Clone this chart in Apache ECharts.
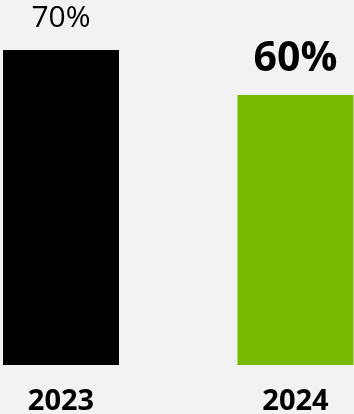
<!DOCTYPE html>
<html>
<head>
<meta charset="utf-8">
<script src="https://cdn.jsdelivr.net/npm/echarts@6/dist/echarts.min.js"></script>
<style>
html,body{margin:0;padding:0;background:#f2f2f2;}
#c{width:354px;height:414px;}
</style>
</head>
<body>
<div id="c"></div>
<script>
var categories = ['2023', '2024'];
var values = [70, 60];
var valueLabels = ['70%', '60%'];
var barColors = ['#000000', '#76b900'];

var chart = echarts.init(document.getElementById('c'), null, {renderer: 'canvas'});
var data = values.map(function (v, i) {
  var bold = i === 1;
  return {
    value: v,
    itemStyle: {color: barColors[i]},
    label: {
      show: true,
      position: 'top',
      formatter: valueLabels[i],
      fontFamily: 'Open Sans',
      fontSize: bold ? 41 : 30,
      fontWeight: bold ? 'bold' : 'normal',
      color: '#000',
      distance: bold ? 15 : 17
    }
  };
});
chart.setOption({
  backgroundColor: '#f2f2f2',
  animation: false,
  grid: {left: 61, width: 234.5, top: 0, height: 365, outerBoundsMode: 'none', containLabel: false},
  xAxis: {
    type: 'category',
    data: categories,
    boundaryGap: false,
    axisLine: {show: false},
    axisTick: {show: false},
    axisLabel: {
      fontFamily: 'Open Sans',
      fontWeight: 'bold',
      fontSize: 29,
      color: '#000',
      margin: 22
    }
  },
  yAxis: {type: 'value', min: 0, max: 81.1, show: false, splitLine: {show: false}},
  series: [{
    type: 'bar',
    data: data,
    barWidth: 116,
    clip: false
  }]
});
</script>
</body>
</html>
